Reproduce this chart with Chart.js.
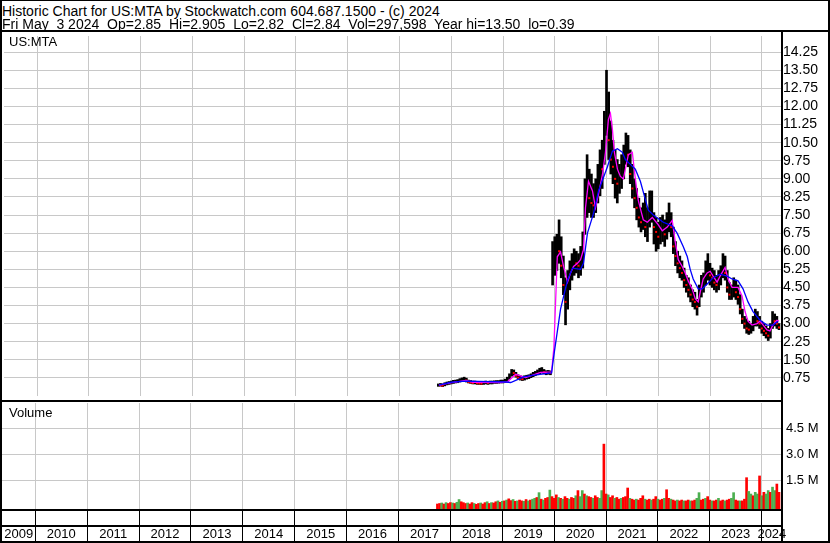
<!DOCTYPE html>
<html lang="en">
<head>
    <meta charset="UTF-8">
    <title>Historic Chart for US:MTA</title>
    <script src="https://cdn.jsdelivr.net/npm/chart.js"></script>
    <style>
        body {
            margin: 0;
            padding: 0;
            background-color: #fff;
            font-family: 'Liberation Sans', Arial, sans-serif;
        }

        .frame {
            position: relative;
            width: 830px;
            height: 543px;
            background-color: #fff;
            overflow: hidden;
        }

        .box {
            position: absolute;
            left: 0;
        }

        .box canvas {
            display: block;
        }

        .txt {
            position: absolute;
            white-space: pre;
            color: #000;
        }

        .hdr {
            left: 2px;
            font-size: 14px;
            line-height: 14px;
        }

        .lbl {
            left: 9px;
            font-size: 13px;
            line-height: 13px;
        }

        .ln {
            position: absolute;
            background-color: #000;
        }
    </style>
</head>
<body>
    <div class="frame">
        <div class="box" style="top:32px;"><canvas id="priceChart" width="830" height="368"></canvas></div>
        <div class="box" style="top:403px;"><canvas id="volChart" width="830" height="139"></canvas></div>

        <div class="txt hdr" style="top:4px;">Historic Chart for US:MTA by Stockwatch.com 604.687.1500 - (c) 2024</div>
        <div class="txt hdr" style="top:17px;">Fri May  3 2024  Op=2.85  Hi=2.905  Lo=2.82  Cl=2.84  Vol=297,598  Year hi=13.50  lo=0.39</div>
        <div class="txt lbl" style="top:35px;">US:MTA</div>
        <div class="txt lbl" style="top:406px;">Volume</div>

        <!-- frame and panel separators -->
        <div class="ln" style="left:0;top:0;width:830px;height:1px;"></div>
        <div class="ln" style="left:0;top:30px;width:830px;height:2px;"></div>
        <div class="ln" style="left:0;top:400px;width:782px;height:2px;"></div>
        <div class="ln" style="left:0;top:509px;width:782px;height:2px;"></div>
        <div class="ln" style="left:0;top:525px;width:782px;height:2px;"></div>
        <div class="ln" style="left:0;top:541px;width:830px;height:2px;"></div>
        <div class="ln" style="left:0;top:0;width:2px;height:543px;"></div>
        <div class="ln" style="left:781px;top:30px;width:2px;height:513px;"></div>
        <div class="ln" style="left:828px;top:0;width:2px;height:543px;"></div>
    </div>

    <script>
        // half-month periods, first one starts at 2017.75
        const periodStart = 2017.75;
        const periodsPerYear = 24;

        const highs = [
            0.50, 0.52, 0.50, 0.55, 0.58, 0.60,
            0.62, 0.65, 0.66, 0.68, 0.72, 0.75, 0.78, 0.74, 0.66, 0.64, 0.62, 0.62,
            0.60, 0.60, 0.58, 0.60, 0.62, 0.60, 0.62, 0.62, 0.63, 0.64, 0.64, 0.66,
            0.66, 0.70, 0.78, 0.92, 1.10, 1.08, 0.98, 0.88, 0.84, 0.82, 0.84, 0.86,
            0.88, 0.92, 0.98, 1.02, 1.08, 1.15, 1.18, 1.10, 1.05, 1.06, 1.04, 6.40,
            6.60, 6.70, 7.30, 6.60, 5.80, 4.90, 5.20, 5.60, 5.90, 6.10, 6.00, 5.90,
            6.20, 6.80, 9.00, 10.00, 9.40, 9.20, 8.80, 9.00, 9.60, 10.20, 10.60, 11.80,
            13.50, 12.60, 11.40, 10.60, 10.20, 9.80, 9.60, 10.00, 10.40, 10.90, 10.80, 10.20,
            9.60, 9.00, 8.60, 8.20, 7.80, 8.00, 8.40, 7.80, 8.50, 8.50, 7.60, 7.40,
            7.20, 7.40, 7.50, 7.30, 7.60, 8.00, 7.60, 7.00, 6.40, 6.00, 5.80, 5.60,
            5.30, 5.00, 4.90, 4.60, 4.40, 4.30, 4.00, 4.60, 5.00, 5.10, 5.60, 5.90,
            5.50, 5.30, 5.20, 5.00, 5.20, 5.40, 5.90, 5.80, 5.20, 4.70, 4.60, 4.90,
            4.80, 4.60, 4.20, 3.60, 3.30, 3.20, 3.10, 3.00, 3.30, 3.60, 3.50, 3.30,
            3.10, 3.00, 2.90, 2.80, 3.00, 3.50, 3.40, 3.30, 3.00
        ];

        const lows = [
            0.40, 0.41, 0.39, 0.42, 0.46, 0.48,
            0.50, 0.52, 0.54, 0.55, 0.58, 0.60, 0.62, 0.58, 0.54, 0.52, 0.50, 0.50,
            0.48, 0.48, 0.47, 0.48, 0.50, 0.48, 0.50, 0.50, 0.52, 0.52, 0.53, 0.54,
            0.54, 0.56, 0.60, 0.70, 0.82, 0.86, 0.78, 0.70, 0.66, 0.64, 0.66, 0.70,
            0.72, 0.76, 0.80, 0.84, 0.88, 0.92, 0.95, 0.92, 0.88, 0.90, 0.88, 4.60,
            5.00, 5.20, 5.50, 4.90, 4.20, 2.95, 3.60, 4.40, 4.80, 5.00, 5.10, 4.90,
            5.00, 5.30, 6.70, 7.40, 7.60, 7.40, 7.40, 7.60, 8.00, 8.30, 8.60, 9.60,
            10.80, 9.80, 9.20, 8.80, 8.20, 8.00, 8.40, 8.60, 9.00, 9.60, 9.50, 8.80,
            8.20, 7.80, 7.30, 7.00, 6.80, 6.90, 6.60, 6.40, 7.00, 7.20, 6.30, 6.00,
            6.10, 6.30, 6.40, 6.20, 6.50, 6.80, 6.60, 5.90, 5.40, 5.10, 4.90, 4.80,
            4.50, 4.30, 4.10, 3.90, 3.70, 3.60, 3.35, 3.70, 4.10, 4.30, 4.60, 4.80,
            4.60, 4.50, 4.40, 4.30, 4.40, 4.60, 4.90, 4.80, 4.30, 4.00, 4.00, 4.10,
            4.00, 3.80, 3.40, 3.00, 2.80, 2.60, 2.55, 2.60, 2.70, 2.90, 2.90, 2.80,
            2.60, 2.50, 2.40, 2.30, 2.40, 2.80, 2.90, 2.80, 2.75
        ];

        const closes = [
            0.45, 0.44, 0.43, 0.50, 0.52, 0.55,
            0.56, 0.60, 0.58, 0.62, 0.66, 0.70, 0.72, 0.64, 0.58, 0.56, 0.54, 0.55,
            0.53, 0.52, 0.51, 0.53, 0.56, 0.54, 0.55, 0.56, 0.58, 0.58, 0.60, 0.60,
            0.62, 0.64, 0.72, 0.85, 1.00, 0.95, 0.84, 0.76, 0.72, 0.70, 0.74, 0.78,
            0.80, 0.84, 0.90, 0.94, 1.00, 1.05, 1.08, 0.98, 0.96, 0.98, 0.95, 5.80,
            5.90, 6.20, 6.00, 5.40, 4.60, 3.90, 4.50, 5.10, 5.30, 5.60, 5.50, 5.40,
            5.50, 6.40, 8.30, 8.60, 8.20, 8.00, 7.90, 8.30, 9.00, 9.60, 9.40, 11.00,
            12.40, 10.60, 9.80, 9.50, 9.00, 8.80, 9.20, 9.40, 9.80, 10.40, 10.00, 9.20,
            8.60, 8.20, 7.80, 7.40, 7.20, 7.60, 7.00, 7.00, 7.60, 7.80, 7.00, 6.80,
            6.60, 6.90, 7.00, 6.70, 7.20, 7.40, 7.00, 6.20, 5.80, 5.50, 5.30, 5.10,
            4.80, 4.60, 4.40, 4.20, 4.00, 3.90, 3.70, 4.30, 4.60, 4.70, 5.20, 5.30,
            5.00, 4.90, 4.70, 4.60, 4.80, 5.00, 5.40, 5.10, 4.50, 4.20, 4.20, 4.50,
            4.30, 4.10, 3.60, 3.20, 3.00, 2.80, 2.75, 2.80, 3.00, 3.30, 3.10, 3.00,
            2.80, 2.70, 2.60, 2.50, 2.80, 3.20, 3.10, 3.00, 2.84
        ];

        // volume per period, millions of shares
        const volumes = [
            0.12, 0.15, 0.18, 0.12, 0.20, 0.15,
            0.20, 0.18, 0.15, 0.22, 0.38, 0.25, 0.20, 0.15, 0.18, 0.12, 0.20, 0.15,
            0.10, 0.15, 0.18, 0.12, 0.20, 0.25, 0.15, 0.20, 0.18, 0.25, 0.30, 0.22,
            0.28, 0.30, 0.35, 0.42, 0.32, 0.38, 0.28, 0.30, 0.35, 0.30, 0.28, 0.38,
            0.30, 0.35, 0.40, 0.45, 0.50, 0.78, 0.40, 0.35, 0.45, 0.50, 0.93, 0.55,
            0.45, 0.65, 0.50, 0.45, 0.40, 0.55, 0.45, 0.40, 0.50, 0.45, 0.60, 0.90,
            0.55, 0.90, 0.70, 0.60, 0.55, 0.50, 0.45, 0.60, 0.50, 0.45, 0.90, 3.60,
            0.70, 0.65, 0.50, 0.60, 0.45, 0.50, 0.40, 0.45, 0.50, 0.55, 1.05, 0.45,
            0.40, 0.35, 0.40, 0.35, 0.45, 0.60, 0.40, 0.35, 0.40, 0.35, 0.40, 0.55,
            0.40, 0.35, 0.40, 0.45, 0.95, 0.45, 0.40, 0.35, 0.30, 0.35, 0.30, 0.35,
            0.30, 0.30, 0.35, 0.30, 0.30, 0.35, 0.45, 0.78, 0.35, 0.40, 0.45, 0.55,
            0.35, 0.30, 0.30, 0.35, 0.45, 0.30, 0.35, 0.30, 0.35, 0.40, 0.45, 0.78,
            0.35, 0.30, 0.30, 0.30, 0.40, 1.65, 0.85, 0.70, 0.60, 0.80, 0.70, 1.75,
            0.60, 0.80, 0.70, 0.90, 0.80, 1.10, 0.90, 1.28, 0.80
        ];

        // volume bar colour per period: G = green, R = red
        const volumeSide = [
            'RRGRGR',
            'RGRGGRRRGRRGRRGRRGRGRRGR',
            'GRGRRGRGRRGRGRGGRGRGRRGR',
            'RRGRGRRGRRGRGGRGRRGRRGGR',
            'RGRRGRRGRRRGRRGRRRGRRGRR',
            'GRRGRRGRRGRRGRRGRRGGRRGR',
            'RGRRGRRGRRGGRRGRRRGGRGGR',
            'GRGGRGGRR'
        ].join('');

        // short moving average (magenta), [year, price]
        const shortAvg = [
            [2017.761, 0.45], [2018.012, 0.55], [2018.282, 0.65], [2018.417, 0.57], [2018.956, 0.56],
            [2019.091, 0.60], [2019.245, 0.90], [2019.438, 0.76], [2019.727, 0.98], [2019.939, 1.00],
            [2019.983, 2.00], [2020.049, 5.77], [2020.112, 5.97], [2020.170, 5.37], [2020.247, 4.72],
            [2020.305, 5.10], [2020.363, 5.37], [2020.440, 5.50], [2020.498, 5.65], [2020.555, 6.06],
            [2020.594, 7.80], [2020.652, 8.90], [2020.729, 8.50], [2020.787, 7.80], [2020.845, 8.37],
            [2020.922, 9.18], [2020.980, 10.10], [2021.037, 11.46], [2021.076, 11.70], [2021.114, 11.05],
            [2021.153, 10.10], [2021.211, 9.40], [2021.268, 9.10], [2021.326, 9.00], [2021.422, 10.00],
            [2021.499, 10.10], [2021.557, 9.00], [2021.615, 8.10], [2021.711, 7.30], [2021.788, 7.20],
            [2021.885, 7.40], [2021.981, 7.15], [2022.078, 6.85], [2022.174, 7.00], [2022.270, 7.28],
            [2022.328, 6.40], [2022.386, 5.65], [2022.463, 5.37], [2022.521, 5.10], [2022.579, 4.77],
            [2022.656, 4.44], [2022.714, 4.03], [2022.772, 3.90], [2022.810, 4.30], [2022.868, 4.85],
            [2022.945, 5.10], [2023.003, 5.17], [2023.060, 4.97], [2023.137, 4.72], [2023.195, 4.97],
            [2023.291, 5.33], [2023.349, 4.85], [2023.426, 4.50], [2023.542, 4.50], [2023.619, 4.15],
            [2023.677, 3.50], [2023.734, 3.10], [2023.811, 2.94], [2023.908, 3.00], [2023.966, 3.10],
            [2024.024, 2.95], [2024.101, 2.74], [2024.159, 2.70], [2024.216, 2.94], [2024.293, 3.14],
            [2024.332, 3.10]
        ];

        // long moving average (blue), [year, price]
        const longAvg = [
            [2017.761, 0.45], [2017.992, 0.57], [2018.282, 0.62], [2019.052, 0.58], [2019.149, 0.56],
            [2019.399, 0.79], [2019.534, 0.84], [2019.785, 0.92], [2019.939, 0.96], [2019.977, 1.60],
            [2020.112, 3.60], [2020.247, 4.80], [2020.344, 5.30], [2020.498, 5.25], [2020.555, 5.50],
            [2020.632, 6.75], [2020.748, 7.56], [2020.845, 8.50], [2021.018, 9.50], [2021.114, 10.15],
            [2021.211, 10.25], [2021.307, 10.10], [2021.365, 9.80], [2021.461, 9.60], [2021.557, 9.40],
            [2021.654, 8.90], [2021.750, 8.15], [2021.808, 7.70], [2021.904, 7.50], [2022.097, 7.20],
            [2022.270, 7.05], [2022.367, 6.74], [2022.482, 6.20], [2022.560, 5.78], [2022.617, 5.25],
            [2022.675, 4.85], [2022.772, 4.44], [2022.849, 4.44], [2022.945, 4.64], [2023.060, 4.90],
            [2023.195, 5.05], [2023.330, 4.97], [2023.426, 4.85], [2023.542, 4.77], [2023.638, 4.44],
            [2023.734, 3.90], [2023.831, 3.50], [2023.966, 3.14], [2024.101, 2.94], [2024.216, 2.94],
            [2024.313, 3.10]
        ];

        const priceTicks = [0.75, 1.50, 2.25, 3.00, 3.75, 4.50, 5.25, 6.00, 6.75, 7.50,
            8.25, 9.00, 9.75, 10.50, 11.25, 12.00, 12.75, 13.50, 14.25];
        const volumeTicks = [1.5, 3.0, 4.5];
        const years = [2010, 2011, 2012, 2013, 2014, 2015, 2016, 2017, 2018, 2019,
            2020, 2021, 2022, 2023, 2024];

        // visible time range of the plot
        const xMin = 2009.358;
        const xMax = 2024.391;

        Chart.defaults.font.family = "'Liberation Sans', Arial, sans-serif";
        Chart.defaults.color = '#000';

        const gridGrey = '#c8c8c8';
        const upGreen = '#4caf50';
        const downRed = '#ff0000';

        const periodYear = i => periodStart + i / periodsPerYear;
        const isDown = i => i > 0 && closes[i] < closes[i - 1];

        // year boundaries draw grid lines, label ticks sit in the middle of each visible year
        const labelSpots = years.map(y => (Math.max(y - 1, xMin) + Math.min(y, xMax)) / 2);
        labelSpots.push((years[years.length - 1] + xMax) / 2);

        const priceBars = highs.map((h, i) => ({ x: periodYear(i), y: [lows[i], h] }));
        const downCloses = [];
        closes.forEach((c, i) => {
            if (isDown(i)) downCloses.push({ x: periodYear(i), y: c });
        });

        new Chart(document.getElementById('priceChart'), {
            type: 'bar',
            data: {
                datasets: [
                    {
                        type: 'line',
                        data: longAvg.map(p => ({ x: p[0], y: p[1] })),
                        borderColor: '#0000ff',
                        borderWidth: 1.3,
                        pointRadius: 0,
                        tension: 0,
                        order: 1
                    },
                    {
                        type: 'line',
                        data: shortAvg.map(p => ({ x: p[0], y: p[1] })),
                        borderColor: '#ff00ff',
                        borderWidth: 1.3,
                        pointRadius: 0,
                        tension: 0,
                        order: 2
                    },
                    {
                        type: 'line',
                        data: downCloses,
                        showLine: false,
                        pointStyle: 'rect',
                        pointRadius: 1.4,
                        pointBorderWidth: 0,
                        pointBackgroundColor: downRed,
                        order: 3
                    },
                    {
                        type: 'bar',
                        data: priceBars,
                        backgroundColor: '#000',
                        barThickness: 2,
                        order: 4
                    }
                ]
            },
            options: {
                responsive: false,
                animation: false,
                layout: { padding: { left: 2, right: 0, top: 0, bottom: 0 } },
                plugins: { legend: { display: false }, tooltip: { enabled: false } },
                scales: {
                    x: {
                        type: 'linear',
                        min: xMin,
                        max: xMax,
                        offset: false,
                        grid: { offset: false, color: gridGrey, drawTicks: false },
                        border: { display: false },
                        ticks: { display: false },
                        afterBuildTicks: s => { s.ticks = years.map(v => ({ value: v })); },
                        afterFit: s => { s.height = 0; s.paddingLeft = 0; s.paddingRight = 0; }
                    },
                    y: {
                        position: 'right',
                        min: 0,
                        max: 14.92,
                        grid: { color: gridGrey, drawTicks: false },
                        border: { display: false },
                        ticks: {
                            autoSkip: false,
                            padding: 1,
                            font: { size: 14 },
                            callback: v => v.toFixed(2)
                        },
                        afterBuildTicks: s => { s.ticks = priceTicks.map(v => ({ value: v })); },
                        afterFit: s => { s.width = 48; s.paddingTop = 0; s.paddingBottom = 0; }
                    }
                }
            }
        });

        new Chart(document.getElementById('volChart'), {
            type: 'bar',
            data: {
                datasets: [{
                    data: volumes.map((v, i) => ({ x: periodYear(i), y: v })),
                    backgroundColor: volumes.map((v, i) => volumeSide[i] === 'R' ? downRed : upGreen),
                    barThickness: 2,
                    base: -0.17
                }]
            },
            options: {
                responsive: false,
                animation: false,
                layout: { padding: { left: 2, right: 0, top: 0, bottom: 0 } },
                plugins: { legend: { display: false }, tooltip: { enabled: false } },
                scales: {
                    x: {
                        type: 'linear',
                        min: xMin,
                        max: xMax,
                        offset: false,
                        grid: {
                            offset: false,
                            drawTicks: true,
                            tickLength: 33,
                            color: ctx => Number.isInteger(ctx.tick.value) ? gridGrey : 'rgba(0,0,0,0)',
                            tickColor: ctx => Number.isInteger(ctx.tick.value) ? '#000' : 'rgba(0,0,0,0)'
                        },
                        border: { display: false },
                        ticks: {
                            autoSkip: false,
                            maxRotation: 0,
                            padding: -15,
                            font: { size: 13 },
                            callback: v => Number.isInteger(v) ? '' : String(Math.floor(v))
                        },
                        afterBuildTicks: s => {
                            s.ticks = years.concat(labelSpots).sort((a, b) => a - b).map(v => ({ value: v }));
                        },
                        afterFit: s => { s.height = 33; s.paddingLeft = 0; s.paddingRight = 0; }
                    },
                    y: {
                        position: 'right',
                        min: -0.17,
                        max: 5.99,
                        grid: { color: gridGrey, drawTicks: false },
                        border: { display: false },
                        ticks: {
                            autoSkip: false,
                            padding: 4,
                            font: { size: 13 },
                            callback: v => v.toFixed(1) + ' M'
                        },
                        afterBuildTicks: s => { s.ticks = volumeTicks.map(v => ({ value: v })); },
                        afterFit: s => { s.width = 48; s.paddingTop = 0; s.paddingBottom = 0; }
                    }
                }
            }
        });
    </script>
</body>
</html>
